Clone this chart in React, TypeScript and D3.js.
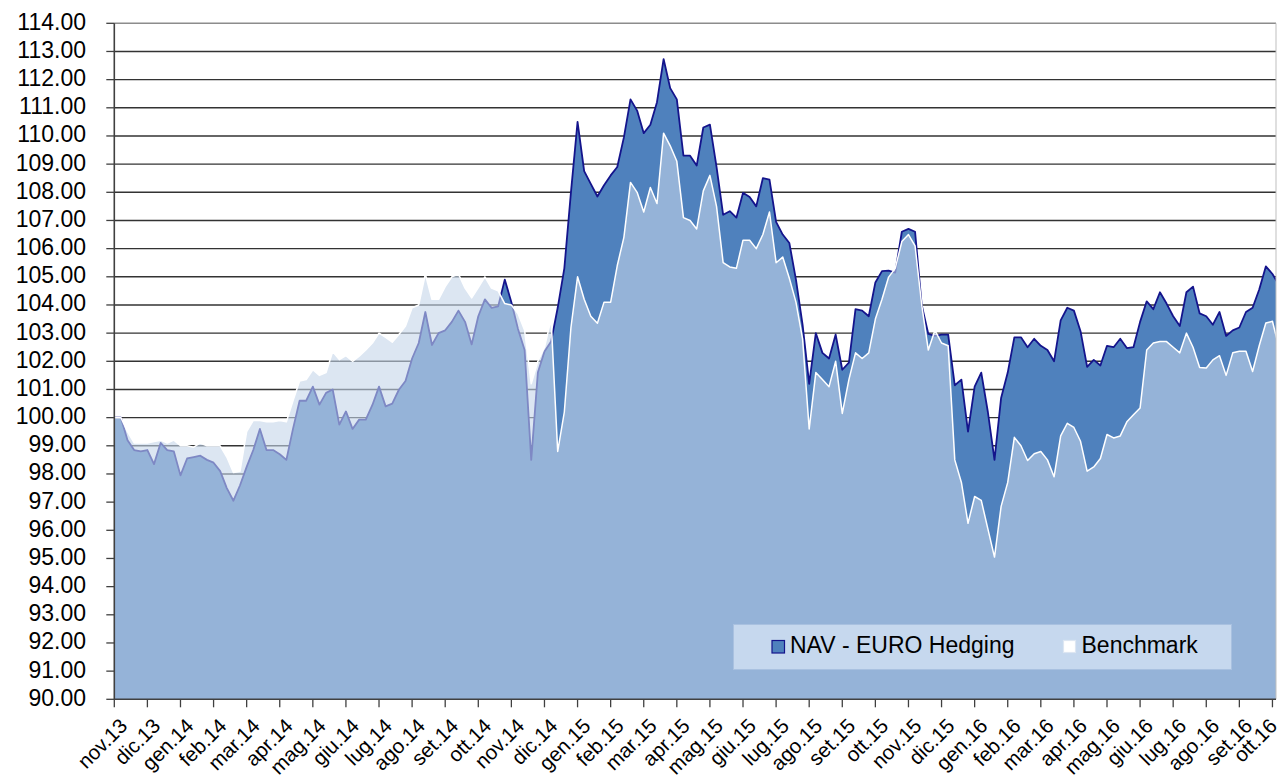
import React from "react";
import * as d3 from "d3";

const monthLabels = [
  "nov.13", "dic.13", "gen.14", "feb.14", "mar.14", "apr.14", "mag.14", "giu.14", "lug.14", "ago.14", "set.14", "ott.14",
  "nov.14", "dic.14", "gen.15", "feb.15", "mar.15", "apr.15", "mag.15", "giu.15", "lug.15", "ago.15", "set.15", "ott.15",
  "nov.15", "dic.15", "gen.16", "feb.16", "mar.16", "apr.16", "mag.16", "giu.16", "lug.16", "ago.16", "set.16", "ott.16",
];

// samples every 1/5 month starting at the beginning of nov.13
const STEP = 0.2;

const navValues = [
  100.0, 100.0, 99.2, 98.85, 98.8, 98.85, 98.35, 99.1, 98.85, 98.8,
  97.95, 98.55, 98.6, 98.65, 98.5, 98.4, 98.1, 97.5, 97.05, 97.6,
  98.25, 98.85, 99.6, 98.85, 98.85, 98.7, 98.5, 99.6, 100.6, 100.6,
  101.1, 100.46, 100.88, 101.0, 99.75, 100.22, 99.6, 99.93, 99.93, 100.45,
  101.1, 100.4, 100.5, 100.99, 101.3, 102.1, 102.65, 103.75, 102.58, 103.0,
  103.1, 103.4, 103.8, 103.4, 102.6, 103.6, 104.2, 103.9, 103.95, 104.9,
  104.1, 103.15, 102.4, 98.5, 101.6, 102.35, 102.7, 103.9, 105.3, 108.0,
  110.5, 108.75, 108.3, 107.85, 108.25, 108.6, 108.9, 109.95, 111.3, 110.9,
  110.1, 110.4, 111.2, 112.73, 111.7, 111.3, 109.3, 109.3, 108.95, 110.3,
  110.4, 108.9, 107.2, 107.33, 107.1, 107.98, 107.83, 107.5, 108.5, 108.45,
  106.95, 106.5, 106.2, 104.9, 103.3, 101.2, 103.0, 102.3, 102.1, 102.95,
  101.7, 101.95, 103.85, 103.8, 103.6, 104.8, 105.2, 105.22, 105.15, 106.6,
  106.7, 106.6, 104.0, 102.97, 102.9, 102.95, 102.95, 101.15, 101.35, 99.5,
  101.1, 101.6, 100.2, 98.5, 100.7, 101.6, 102.85, 102.85, 102.5, 102.8,
  102.55, 102.4, 102.0, 103.45, 103.9, 103.8, 103.07, 101.8, 102.05, 101.85,
  102.55, 102.5, 102.8, 102.47, 102.5, 103.4, 104.13, 103.85, 104.45, 104.05,
  103.6, 103.25, 104.45, 104.65, 103.7, 103.6, 103.3, 103.75, 102.9, 103.1,
  103.2, 103.75, 103.9, 104.55, 105.37, 105.1, 104.7,
];

const benchValues = [
  100.0, 100.0, 99.5, 99.1, 99.1, 99.1, 99.15, 99.2, 99.1, 99.2,
  99.0, 99.0, 98.95, 99.1, 99.0, 99.0, 99.0, 98.6, 98.05, 98.1,
  99.5, 99.9, 99.9, 99.85, 99.85, 99.9, 99.85, 100.6, 101.3, 101.35,
  101.7, 101.5, 101.6, 102.35, 102.06, 102.2, 102.0, 102.18, 102.4, 102.65,
  103.0, 102.85, 102.68, 102.95, 103.25, 103.9, 104.0, 105.1, 104.2, 104.2,
  104.65, 105.0, 105.1, 104.6, 104.25, 104.62, 105.0, 104.6, 104.5, 104.05,
  104.0, 103.7, 103.1, 101.2, 102.0, 102.5, 103.5, 98.8, 100.2, 103.2,
  105.0, 104.2, 103.6, 103.35, 104.1, 104.1, 105.4, 106.4, 108.35, 108.0,
  107.3, 108.17, 107.6, 110.1, 109.65, 109.1, 107.1, 107.0, 106.7, 108.05,
  108.6, 107.5, 105.5, 105.35, 105.3, 106.3, 106.3, 106.0, 106.5, 107.3,
  105.5, 105.7, 104.95, 104.1, 102.8, 99.6, 101.6, 101.35, 101.1, 102.0,
  100.15, 101.35, 102.3, 102.1, 102.3, 103.5, 104.2, 104.99, 105.3, 106.25,
  106.5, 106.1, 104.0, 102.4, 103.1, 102.65, 102.55, 98.5, 97.7, 96.25,
  97.2, 97.06, 96.05, 95.05, 96.85, 97.7, 99.3, 99.0, 98.48, 98.72,
  98.8, 98.5, 97.9, 99.35, 99.8, 99.65, 99.16, 98.1, 98.25, 98.55,
  99.4, 99.28, 99.35, 99.85, 100.1, 100.34, 102.4, 102.65, 102.7, 102.7,
  102.5, 102.3, 103.0, 102.5, 101.78, 101.76, 102.05, 102.2, 101.5, 102.3,
  102.36, 102.36, 101.64, 102.55, 103.36, 103.42, 102.47,
];

const yTicks = d3.range(90, 115, 1);
const legendItems = ["NAV - EURO Hedging", "Benchmark"];

const W = 1277;
const H = 782;
const FONT = "'Liberation Sans', Arial, sans-serif";

export default function App() {
  const x0 = 114.3;
  const xRight = 1276;
  const x = d3.scaleLinear().domain([0, 35]).range([x0, x0 + 35 * 33.09]);
  const y = d3.scaleLinear().domain([90, 114]).range([699.3, 23.3]);

  const area = d3
    .area<number>()
    .x((_, i) => x(i * STEP))
    .y0(y(90))
    .y1((d) => y(d));
  const line = d3
    .line<number>()
    .x((_, i) => x(i * STEP))
    .y((d) => y(d));

  const navFill = "#4F81BD";
  const navStroke = "#14148C";
  const benchFill = "#C5D5E9";

  return (
    <svg
      width={W}
      height={H}
      style={{ position: "absolute", left: 0, top: 0, background: "#fff" }}
      fontFamily={FONT}
    >
      <defs>
        <clipPath id="plotClip">
          <rect x={x0} y={0} width={xRight - x0} height={y(90) - 0} />
        </clipPath>
      </defs>
      <rect x={0} y={0} width={W} height={H} fill="#fff" />

      {/* gridlines */}
      {yTicks.map((v) => (
        <line
          key={"g" + v}
          x1={x0}
          x2={xRight}
          y1={y(v)}
          y2={y(v)}
          stroke={v === 114 ? "#8c8c8c" : "#333333"}
          strokeWidth={v === 114 ? 1.6 : 1.4}
        />
      ))}

      <g clipPath="url(#plotClip)">
        <path d={area(navValues) || ""} fill={navFill} />
        <path d={line(navValues) || ""} fill="none" stroke={navStroke} strokeWidth={1.8} strokeLinejoin="round" />
        <path d={area(benchValues) || ""} fill={benchFill} fillOpacity={0.6} />
        <path d={line(benchValues) || ""} fill="none" stroke="#ffffff" strokeWidth={1.5} strokeLinejoin="round" />
      </g>

      {/* right border */}
      <line x1={xRight} x2={xRight} y1={y(114)} y2={y(90)} stroke="#bfbfbf" strokeWidth={1} />

      {/* y axis */}
      <line x1={x0} x2={x0} y1={y(114)} y2={y(90) + 0.5} stroke="#404040" strokeWidth={1.6} />
      {yTicks.map((v) => (
        <g key={"yt" + v}>
          <line x1={x0 - 8} x2={x0} y1={y(v)} y2={y(v)} stroke="#404040" strokeWidth={1.3} />
          <text x={86} y={y(v) + 6.5} textAnchor="end" fontSize={23} fill="#000">
            {v.toFixed(2)}
          </text>
        </g>
      ))}

      {/* x axis */}
      <line x1={x0} x2={xRight} y1={y(90)} y2={y(90)} stroke="#404040" strokeWidth={1.6} />
      {monthLabels.map((m, i) => {
        const tx = x(i);
        return (
          <g key={"xt" + m}>
            <line x1={tx} x2={tx} y1={y(90)} y2={y(90) + 8} stroke="#404040" strokeWidth={1.3} />
            <text
              transform={`translate(${Math.min(tx + 4, 1268)},${717}) rotate(-45)`}
              textAnchor="end"
              dy="0.71em"
              fontSize={20.5}
              fill="#000"
            >
              {m}
            </text>
          </g>
        );
      })}

      {/* legend */}
      <g>
        <rect x={733.5} y={624.5} width={498} height={45} fill="#C6D8EE" stroke="#A9C1E0" strokeWidth={1} />
        <rect x={772} y={640.5} width={12.5} height={12.5} fill={navFill} stroke={navStroke} strokeWidth={1.2} />
        <text x={790} y={653} fontSize={23} fill="#000">
          {legendItems[0]}
        </text>
        <rect x={1063.5} y={640.5} width={12} height={12} fill="#ffffff" stroke="#dde6f2" strokeWidth={1.2} />
        <text x={1081.5} y={653} fontSize={23} fill="#000">
          {legendItems[1]}
        </text>
      </g>
    </svg>
  );
}
